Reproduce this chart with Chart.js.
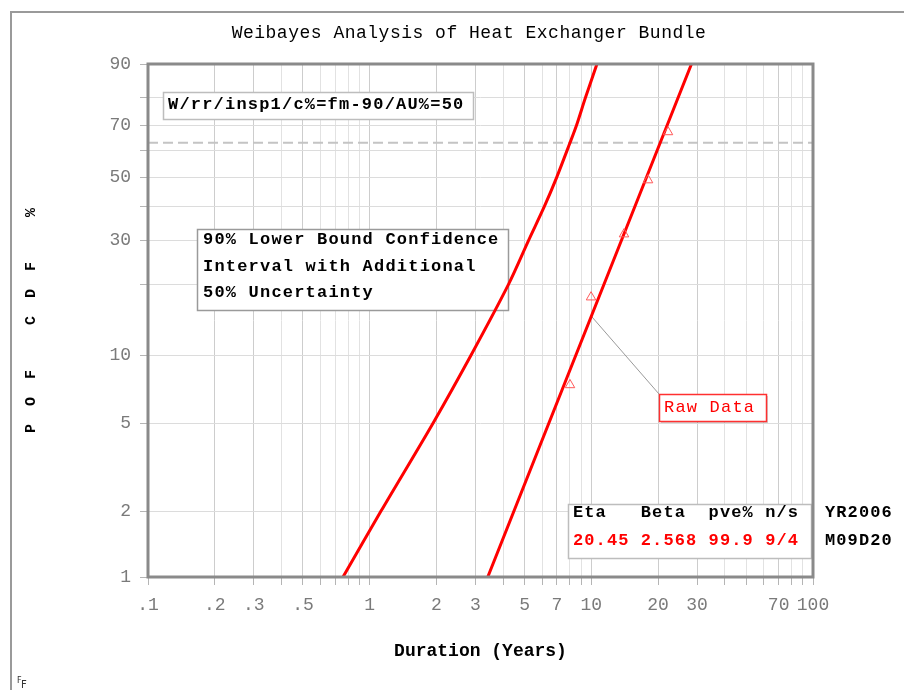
<!DOCTYPE html>
<html>
<head>
<meta charset="utf-8">
<title>Weibayes Analysis of Heat Exchanger Bundle</title>
<script src="https://cdn.jsdelivr.net/npm/chart.js@4.4.1/dist/chart.umd.min.js"></script>
<style>
  html, body { margin: 0; padding: 0; background: #fff; }
  canvas { display: block; }
</style>
</head>
<body>
<canvas id="weibull" width="904" height="690"></canvas>
<script>
// Weibayes plot: duration on a log axis against probability of failure
// on a Weibull probability axis.

const chartTitle = 'Weibayes Analysis of Heat Exchanger Bundle';
const xAxisTitle = 'Duration (Years)';
const yAxisTitle = 'P  O  F     C  D  F     %';

// observed failures (raw data)
const rawYears = [8.01, 9.97, 14.04, 18.02, 22.17];
const rawPct   = [7.4, 17.7, 31.6, 49.0, 67.4];

// Weibayes fit (eta 20.45, beta 2.568): straight on Weibull paper
const fitYears = [3.41, 20.45, 28.30];
const fitPct   = [1, 63.2, 90];

// 90% lower bound with 50% additional uncertainty
const boundYears = [0.758, 1.125, 1.931, 2.865, 4.230, 5.218, 6.147, 6.978, 8.012, 8.575, 9.402, 10.60];
const boundPct   = [1, 2, 5, 10, 20, 30, 40, 50, 63.2, 70, 80, 90];

// characteristic-life level
const etaLevelPct = 63.2;

// axis grid and tick labels
const xGridYears = [0.1, 0.2, 0.3, 0.4, 0.5, 0.6, 0.7, 0.8, 0.9,
                    1, 2, 3, 4, 5, 6, 7, 8, 9,
                    10, 20, 30, 40, 50, 60, 70, 80, 90, 100];
const xTickYears = [0.1, 0.2, 0.3, 0.5, 1, 2, 3, 5, 7, 10, 20, 30, 70, 100];
const xTickText  = ['.1', '.2', '.3', '.5', '1', '2', '3', '5', '7', '10', '20', '30', '70', '100'];
const yGridPct   = [1, 2, 5, 10, 20, 30, 40, 50, 60, 70, 80, 90];
const yTickPct   = [1, 2, 5, 10, 30, 50, 70, 90];

// text panels
const methodText  = 'W/rr/insp1/c%=fm-90/AU%=50';
const boundNote   = ['90% Lower Bound Confidence', 'Interval with Additional', '50% Uncertainty'];
const rawLabel    = 'Raw Data';
const statsHeader = 'Eta   Beta  pve% n/s';
const statsValues = '20.45 2.568 99.9 9/4';
const dateLines   = ['YR2006', 'M09D20'];

const MONO = '"Liberation Mono", "DejaVu Sans Mono", monospace';
const RED = '#ff0000';

const toPoints = (xs, ys) => xs.map((x, i) => ({ x: x, y: ys[i] }));
const weib = p => Math.log(-Math.log(1 - p / 100));

// Weibull probability scale: linear in ln(-ln(1-F))
class WeibullScale extends Chart.Scale {
  determineDataLimits() {
    this.min = this.options.min;
    this.max = this.options.max;
  }
  buildTicks() {
    return yGridPct.map(v => ({ value: v }));
  }
  configure() {
    super.configure();
    this._wStart = weib(this.min);
    this._wRange = weib(this.max) - this._wStart;
  }
  getLabelForValue(v) { return String(v); }
  getPixelForValue(v) {
    return this.getPixelForDecimal((weib(v) - this._wStart) / this._wRange);
  }
  getValueForPixel(p) {
    const w = this._wStart + this.getDecimalForPixel(p) * this._wRange;
    return 100 * (1 - Math.exp(-Math.exp(w)));
  }
}
WeibullScale.id = 'weibull';
WeibullScale.defaults = {};
Chart.register(WeibullScale);

function boxRect(ctx, x, y, w, h, stroke, lw, shadow) {
  ctx.save();
  if (shadow) {
    ctx.fillStyle = 'rgba(0,0,0,0.18)';
    ctx.fillRect(x + 2, y + 2, w, h);
  }
  ctx.fillStyle = '#fff';
  ctx.fillRect(x, y, w, h);
  ctx.strokeStyle = stroke;
  ctx.lineWidth = lw;
  ctx.strokeRect(x + 0.5, y + 0.5, w, h);
  ctx.restore();
}

function monoText(ctx, text, x, y, color, font, spacing) {
  ctx.save();
  ctx.font = font;
  ctx.fillStyle = color;
  ctx.textBaseline = 'middle';
  ctx.textAlign = 'left';
  if ('letterSpacing' in ctx) ctx.letterSpacing = spacing || '0px';
  ctx.fillText(text, x, y);
  ctx.restore();
}

const panelFont = 'bold 17px ' + MONO;

const weibayesDecor = {
  id: 'weibayesDecor',
  beforeDraw(chart) {
    const ctx = chart.ctx;
    ctx.save();
    ctx.fillStyle = '#fff';
    ctx.fillRect(0, 0, chart.width, chart.height);
    // page frame
    ctx.strokeStyle = '#9a9a9a';
    ctx.lineWidth = 2;
    ctx.beginPath();
    ctx.moveTo(11, chart.height);
    ctx.lineTo(11, 12);
    ctx.lineTo(chart.width, 12);
    ctx.stroke();
    ctx.restore();

    // heading
    ctx.save();
    ctx.font = '18px ' + MONO;
    ctx.fillStyle = '#000';
    ctx.textAlign = 'center';
    ctx.textBaseline = 'middle';
    if ('letterSpacing' in ctx) ctx.letterSpacing = '0.5px';
    ctx.fillText(chartTitle, 469, 33);
    ctx.restore();

    // corner mark
    ctx.save();
    ctx.fillStyle = '#333';
    ctx.textBaseline = 'alphabetic';
    ctx.font = '8px "DejaVu Sans"';
    ctx.fillText('F', 17, 683);
    ctx.font = '10px "DejaVu Sans"';
    ctx.fillText('F', 21, 688);
    ctx.restore();
  },
  beforeDatasetsDraw(chart) {
    const ctx = chart.ctx;
    const a = chart.chartArea;
    const xs = chart.scales.x, ys = chart.scales.y;

    // method panel
    boxRect(ctx, a.left + 15, a.top + 28, 310, 27, '#bdbdbd', 1.5, false);
    monoText(ctx, methodText, a.left + 20, a.top + 41, '#000', panelFont, '1.2px');

    // bound note panel
    boxRect(ctx, a.left + 49, a.top + 165, 311, 81, '#9a9a9a', 1.5, false);
    boundNote.forEach((line, i) => {
      monoText(ctx, line, a.left + 55, a.top + 176 + i * 26.5, '#000', panelFont, '1.2px');
    });

    // leader from the fit line to the raw data label
    const px1 = xs.getPixelForValue(fitYears[0]), py1 = ys.getPixelForValue(fitPct[0]);
    const px2 = xs.getPixelForValue(fitYears[2]), py2 = ys.getPixelForValue(fitPct[2]);
    const lx = xs.getPixelForValue(10);
    const ly = py1 + (lx - px1) / (px2 - px1) * (py2 - py1);
    const rbx = a.left + 511, rby = a.top + 330;
    ctx.save();
    ctx.strokeStyle = '#9a9a9a';
    ctx.lineWidth = 1;
    ctx.beginPath();
    ctx.moveTo(lx, ly);
    ctx.lineTo(rbx, rby);
    ctx.stroke();
    ctx.restore();
    boxRect(ctx, rbx, rby, 107, 27, '#ff3030', 1.5, true);
    monoText(ctx, rawLabel, rbx + 5, rby + 13, RED, '17px ' + MONO, '1.2px');

    // statistics panel
    boxRect(ctx, a.left + 420, a.top + 440, 243, 54, '#bdbdbd', 1.5, false);
    monoText(ctx, statsHeader, a.left + 425, a.top + 449, '#000', panelFont, '1.1px');
    monoText(ctx, statsValues, a.left + 425, a.top + 477, RED, panelFont, '1.1px');
    monoText(ctx, dateLines[0], a.right + 12, a.top + 449, '#000', panelFont, '1.1px');
    monoText(ctx, dateLines[1], a.right + 12, a.top + 477, '#000', panelFont, '1.1px');
  },
  afterDatasetsDraw(chart) {
    const ctx = chart.ctx;
    const a = chart.chartArea;
    ctx.save();
    ctx.strokeStyle = '#8a8a8a';
    ctx.lineWidth = 3;
    ctx.strokeRect(a.left, a.top, a.right - a.left, a.bottom - a.top);
    ctx.restore();
  }
};

new Chart(document.getElementById('weibull'), {
  type: 'scatter',
  data: {
    datasets: [
      {
        label: 'Characteristic life',
        data: toPoints([0.1, 100], [etaLevelPct, etaLevelPct]),
        showLine: true,
        borderColor: '#c4c4c4',
        borderWidth: 2,
        borderDash: [10, 5],
        pointRadius: 0,
        order: 5
      },
      {
        label: 'Lower bound',
        data: toPoints(boundYears, boundPct),
        showLine: true,
        borderColor: RED,
        borderWidth: 3,
        tension: 0.3,
        pointRadius: 0,
        order: 1
      },
      {
        label: 'Weibayes',
        data: toPoints(fitYears, fitPct),
        showLine: true,
        borderColor: RED,
        borderWidth: 3,
        pointRadius: 0,
        order: 1
      },
      {
        label: rawLabel,
        data: toPoints(rawYears, rawPct),
        showLine: false,
        pointStyle: 'triangle',
        pointRadius: 5.5,
        borderColor: '#ff5a5a',
        borderWidth: 1,
        backgroundColor: 'rgba(255,255,255,0)',
        order: 0
      }
    ]
  },
  options: {
    responsive: false,
    animation: false,
    devicePixelRatio: 1,
    layout: { padding: { left: 0, top: 64, right: 91, bottom: 0 } },
    plugins: {
      legend: { display: false },
      tooltip: { enabled: false },
      title: { display: false }
    },
    scales: {
      x: {
        type: 'logarithmic',
        min: 0.1,
        max: 100,
        afterBuildTicks: scale => { scale.ticks = xGridYears.map(v => ({ value: v })); },
        afterFit: scale => { scale.height = 113; },
        border: { display: false },
        grid: {
          color: c => (c.tick && xTickYears.includes(c.tick.value)) ? '#cdcdcd' : '#e2e2e2',
          lineWidth: 1,
          tickLength: 8,
          tickColor: '#b5b5b5'
        },
        ticks: {
          autoSkip: false,
          maxRotation: 0,
          minRotation: 0,
          padding: 9,
          color: '#7a7a7a',
          font: { family: MONO, size: 18 },
          callback: v => {
            const i = xTickYears.indexOf(v);
            return i >= 0 ? xTickText[i] : '';
          }
        },
        title: {
          display: true,
          text: xAxisTitle,
          color: '#000',
          font: { family: MONO, size: 18, weight: 'bold' },
          padding: { top: 0, bottom: 28 }
        }
      },
      y: {
        type: 'weibull',
        min: 1,
        max: 90,
        afterFit: scale => { scale.width = 148; },
        border: { display: false },
        grid: {
          color: '#dcdcdc',
          lineWidth: 1,
          tickLength: 8,
          tickColor: '#b5b5b5'
        },
        ticks: {
          autoSkip: false,
          padding: 9,
          color: '#7a7a7a',
          font: { family: MONO, size: 18 },
          callback: v => (yTickPct.includes(v) ? String(v) : '')
        },
        title: {
          display: true,
          text: yAxisTitle,
          color: '#000',
          font: { family: MONO, size: 15, weight: 'bold' },
          padding: { top: 22, bottom: 0 }
        }
      }
    }
  },
  plugins: [weibayesDecor]
});
</script>
</body>
</html>
